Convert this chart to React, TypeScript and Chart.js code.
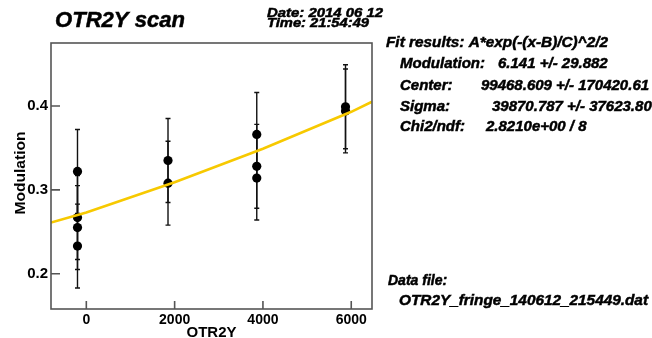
import React, { useEffect, useRef } from 'react';
import { Chart, registerables } from 'chart.js';

Chart.register(...registerables);

// ---- data ----
const scanX = [-200, -200, -200, -200, 1850, 1850, 3860, 3860, 3860, 5870, 5870];
const modulation = [0.322, 0.267, 0.255, 0.233, 0.335, 0.308, 0.366, 0.328, 0.314, 0.399, 0.394];
const modErr = [0.05, 0.05, 0.05, 0.05, 0.05, 0.05, 0.05, 0.05, 0.05, 0.05, 0.05];
const fitX = [-800, 0, 2000, 4000, 6000, 6470];
const fitY = [0.261, 0.273, 0.309, 0.349, 0.393, 0.405];
const xTicks = [0, 2000, 4000, 6000];
const yTicks = [0.2, 0.3, 0.4];
const xRange = [-800, 6470];
const yRange = [0.158, 0.475];

const titleText = 'OTR2Y scan';
const dateText = 'Date: 2014 06 12';
const timeText = 'Time: 21:54:49';
const xTitle = 'OTR2Y';
const yTitle = 'Modulation';
const fitHeader = 'Fit results: A*exp(-(x-B)/C)^2/2';
const fitLabels = ['Modulation:', 'Center:', 'Sigma:', 'Chi2/ndf:'];
const fitValues = ['6.141 +/- 29.882', '99468.609 +/- 170420.61', '39870.787 +/- 37623.80', '2.8210e+00 / 8'];
const dataFileLabel = 'Data file:';
const dataFileName = 'OTR2Y_fringe_140612_215449.dat';

const FONT = '"Liberation Sans", Arial, Helvetica, sans-serif';

function drawText(
  ctx: CanvasRenderingContext2D,
  s: string,
  x: number,
  y: number,
  size: number,
  width?: number,
  italic = true
) {
  ctx.save();
  ctx.font = `${italic ? 'italic ' : ''}bold ${size}px ${FONT}`;
  ctx.textBaseline = 'alphabetic';
  ctx.textAlign = 'left';
  ctx.fillStyle = '#000';
  ctx.strokeStyle = '#000';
  ctx.lineWidth = 0.5;
  const w = ctx.measureText(s).width;
  const sx = width ? width / w : 1;
  ctx.translate(x, y);
  ctx.scale(sx, 1);
  ctx.fillText(s, 0, 0);
  ctx.strokeText(s, 0, 0);
  ctx.restore();
}

const decorPlugin = {
  id: 'decor',
  beforeDatasetsDraw(chart: any) {
    const ctx = chart.ctx as CanvasRenderingContext2D;
    const xs = chart.scales.x;
    const ys = chart.scales.y;
    // error bars
    ctx.save();
    ctx.strokeStyle = '#111';
    ctx.lineWidth = 1.4;
    for (let i = 0; i < scanX.length; i++) {
      const px = xs.getPixelForValue(scanX[i]);
      const p1 = ys.getPixelForValue(modulation[i] - modErr[i]);
      const p2 = ys.getPixelForValue(modulation[i] + modErr[i]);
      ctx.beginPath();
      ctx.moveTo(px, p1);
      ctx.lineTo(px, p2);
      ctx.moveTo(px - 2.5, p1);
      ctx.lineTo(px + 2.5, p1);
      ctx.moveTo(px - 2.5, p2);
      ctx.lineTo(px + 2.5, p2);
      ctx.stroke();
    }
    ctx.restore();
  },
  afterDraw(chart: any) {
    const ctx = chart.ctx as CanvasRenderingContext2D;
    const a = chart.chartArea;
    const xs = chart.scales.x;
    const ys = chart.scales.y;
    // frame
    ctx.save();
    ctx.strokeStyle = '#555';
    ctx.lineWidth = 1.6;
    ctx.strokeRect(a.left, a.top, a.right - a.left, a.bottom - a.top);
    // inside ticks
    ctx.beginPath();
    for (const v of yTicks) {
      const py = ys.getPixelForValue(v);
      ctx.moveTo(a.left, py);
      ctx.lineTo(a.left + 9, py);
    }
    for (const v of xTicks) {
      const px = xs.getPixelForValue(v);
      ctx.moveTo(px, a.bottom);
      ctx.lineTo(px, a.bottom - 8);
    }
    ctx.stroke();
    ctx.restore();

    // axis titles
    ctx.save();
    ctx.font = `bold 15px ${FONT}`;
    ctx.fillStyle = '#000';
    ctx.textAlign = 'center';
    ctx.textBaseline = 'alphabetic';
    ctx.fillText(xTitle, (a.left + a.right) / 2, 336.5);
    ctx.translate(25, 173);
    ctx.rotate(-Math.PI / 2);
    const w = ctx.measureText(yTitle).width;
    ctx.scale(83 / w, 1);
    ctx.fillText(yTitle, 0, 0);
    ctx.restore();

    // header texts
    drawText(ctx, titleText, 55, 27, 22, 130);
    drawText(ctx, dateText, 267, 17, 13, 116);
    drawText(ctx, timeText, 267, 27, 13, 102);

    // fit results panel
    drawText(ctx, fitHeader, 386, 47, 15, 222);
    const baselines = [68, 89.5, 110.5, 131];
    const valueX = [498, 481, 492, 486];
    for (let i = 0; i < fitLabels.length; i++) {
      drawText(ctx, fitLabels[i], 400, baselines[i], 15);
      drawText(ctx, fitValues[i], valueX[i], baselines[i], 15);
    }
    drawText(ctx, dataFileLabel, 388, 285, 14);
    drawText(ctx, dataFileName, 399, 304.5, 15, 249);
  },
};

export default function App() {
  const ref = useRef<HTMLCanvasElement | null>(null);

  useEffect(() => {
    if (!ref.current) return;
    const chart = new Chart(ref.current, {
      type: 'scatter',
      data: {
        datasets: [
          {
            type: 'line',
            label: 'fit',
            data: fitX.map((x, i) => ({ x, y: fitY[i] })),
            borderColor: '#F7C900',
            borderWidth: 2.6,
            pointRadius: 0,
            fill: false,
            tension: 0,
          },
          {
            label: 'data',
            data: scanX.map((x, i) => ({ x, y: modulation[i] })),
            backgroundColor: '#000',
            borderColor: '#000',
            pointRadius: 4.6,
            pointBorderWidth: 0,
          },
        ],
      },
      options: {
        responsive: false,
        animation: false,
        maintainAspectRatio: false,
        layout: { padding: { left: 0, top: 43, right: 280, bottom: 0 } },
        plugins: {
          legend: { display: false },
          tooltip: { enabled: false },
          title: { display: false },
        },
        scales: {
          x: {
            type: 'linear',
            min: xRange[0],
            max: xRange[1],
            grid: { display: false, drawTicks: false },
            border: { display: false },
            ticks: {
              padding: 3,
              color: '#000',
              font: { family: FONT, size: 14, weight: 'bold' },
              maxRotation: 0,
              callback: (v: any) => String(v),
            },
            afterBuildTicks: (s: any) => {
              s.ticks = xTicks.map((v) => ({ value: v }));
            },
            afterFit: (s: any) => {
              s.height = 29;
              s.paddingLeft = 0;
              s.paddingRight = 0;
            },
          },
          y: {
            type: 'linear',
            min: yRange[0],
            max: yRange[1],
            grid: { display: false, drawTicks: false },
            border: { display: false },
            ticks: {
              padding: 3,
              color: '#000',
              font: { family: FONT, size: 15, weight: 'bold' },
              callback: (v: any) => Number(v).toFixed(1),
            },
            afterBuildTicks: (s: any) => {
              s.ticks = yTicks.map((v) => ({ value: v }));
            },
            afterFit: (s: any) => {
              s.width = 51;
              s.paddingTop = 0;
              s.paddingBottom = 0;
            },
          },
        },
      },
      plugins: [decorPlugin],
    } as any);
    return () => chart.destroy();
  }, []);

  return (
    <div style={{ position: 'absolute', left: 0, top: 0, width: 652, height: 338, background: '#fff' }}>
      <canvas ref={ref} width={652} height={338} style={{ width: 652, height: 338, display: 'block' }} />
    </div>
  );
}
